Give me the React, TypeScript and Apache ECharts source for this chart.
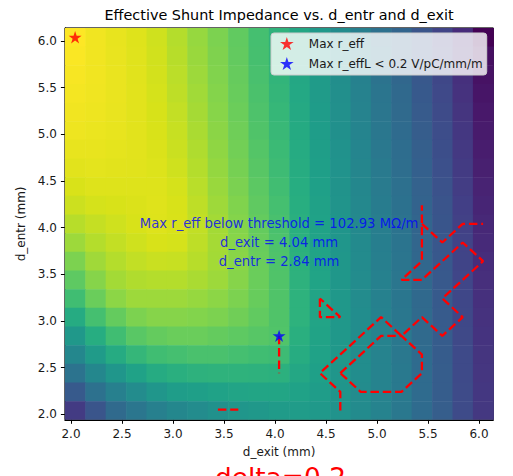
import React, { useEffect, useRef } from "react";
import * as echarts from "echarts";

// d_exit (x) grid-point values, mm
const dExit = [2.04, 2.24, 2.44, 2.64, 2.84, 3.04, 3.24, 3.44, 3.64, 3.84, 4.04, 4.24, 4.44, 4.64, 4.84, 5.04, 5.24, 5.44, 5.64, 5.84, 6.04];
// d_entr (y) grid-point values, mm, listed top row first
const dEntr = [6.04, 5.84, 5.64, 5.44, 5.24, 5.04, 4.84, 4.64, 4.44, 4.24, 4.04, 3.84, 3.64, 3.44, 3.24, 3.04, 2.84, 2.64, 2.44, 2.24, 2.04];

// r_eff (MOhm/m), one row per d_entr value (top row first), one column per d_exit value
const rEff = [
  [125.0, 123.4, 122.2, 121.0, 119.0, 115.8, 112.2, 109.0, 105.4, 101.0, 96.6, 92.2, 87.8, 83.4, 79.0, 74.6, 70.6, 65.8, 61.0, 54.6, 45.0],
  [124.6, 123.4, 122.3, 121.1, 119.2, 116.2, 112.6, 109.3, 105.6, 101.2, 96.9, 92.4, 88.0, 83.6, 79.3, 75.0, 71.0, 66.3, 61.5, 55.2, 48.0],
  [124.2, 123.4, 122.4, 121.2, 119.4, 116.6, 113.0, 109.6, 106.0, 101.6, 97.2, 92.6, 88.2, 83.9, 79.6, 75.4, 71.4, 66.8, 62.0, 55.8, 48.7],
  [123.8, 123.2, 122.4, 121.4, 119.6, 117.0, 113.5, 110.0, 106.3, 102.0, 97.6, 92.8, 88.4, 84.2, 80.0, 75.8, 71.9, 67.2, 62.5, 56.4, 49.3],
  [123.4, 123.0, 122.3, 121.4, 119.9, 117.5, 114.0, 110.4, 106.7, 102.4, 98.1, 93.2, 88.8, 84.5, 80.3, 76.2, 72.4, 67.7, 63.0, 57.0, 50.0],
  [123.0, 122.6, 122.1, 121.4, 120.2, 118.0, 114.6, 110.9, 107.2, 102.8, 98.6, 93.5, 89.1, 84.8, 80.7, 76.6, 72.8, 68.2, 63.6, 57.6, 50.6],
  [122.2, 122.2, 121.8, 121.3, 120.4, 118.4, 115.2, 111.4, 107.6, 103.4, 99.2, 93.8, 89.4, 85.2, 81.0, 77.0, 73.3, 68.7, 64.0, 58.1, 51.2],
  [121.4, 121.6, 121.4, 121.2, 120.7, 119.0, 115.8, 112.0, 108.2, 104.0, 99.7, 94.2, 89.7, 85.5, 81.4, 77.4, 73.8, 69.2, 64.5, 58.7, 51.9],
  [120.2, 120.8, 120.8, 120.8, 120.8, 119.6, 116.4, 112.6, 108.8, 104.6, 100.4, 94.6, 90.0, 85.8, 81.7, 77.8, 74.3, 69.6, 65.0, 59.2, 52.5],
  [118.6, 119.6, 120.0, 120.4, 120.9, 120.0, 117.0, 113.2, 109.5, 105.2, 101.0, 95.0, 90.4, 86.1, 82.1, 78.2, 74.8, 70.1, 65.5, 59.8, 53.2],
  [116.2, 117.8, 119.0, 120.0, 120.8, 120.2, 117.4, 113.8, 110.0, 105.8, 101.6, 95.4, 90.7, 86.4, 82.4, 78.6, 75.2, 70.6, 66.0, 60.3, 53.8],
  [113.0, 115.8, 117.6, 119.0, 120.0, 119.6, 117.0, 114.0, 110.4, 106.3, 102.2, 95.7, 90.9, 86.7, 82.8, 78.9, 75.6, 71.0, 66.4, 60.8, 54.4],
  [109.0, 113.4, 115.8, 117.4, 118.2, 118.0, 116.2, 113.8, 110.6, 106.6, 102.6, 96.0, 91.2, 86.9, 83.0, 79.2, 75.9, 71.4, 66.8, 61.2, 54.9],
  [105.0, 110.2, 113.8, 115.4, 115.8, 115.8, 114.6, 113.0, 110.2, 106.6, 102.8, 96.2, 91.3, 87.1, 83.2, 79.6, 76.2, 71.7, 67.1, 61.6, 55.4],
  [100.2, 106.6, 111.0, 113.0, 113.0, 113.0, 112.2, 111.0, 109.0, 106.2, 102.8, 96.3, 91.4, 87.2, 83.4, 79.8, 76.4, 72.0, 67.4, 61.9, 55.9],
  [93.8, 101.0, 105.8, 109.0, 110.2, 110.2, 109.8, 109.0, 107.4, 105.4, 102.8, 96.3, 91.4, 87.3, 83.6, 80.0, 76.7, 72.3, 67.6, 62.2, 56.3],
  [87.4, 94.6, 100.2, 104.2, 105.8, 106.6, 106.6, 105.8, 105.0, 103.8, 102.93, 95.4, 91.2, 87.3, 83.6, 80.2, 76.8, 72.4, 67.9, 62.4, 56.7],
  [81.8, 88.2, 93.8, 97.8, 100.2, 101.0, 101.8, 101.8, 101.0, 100.2, 99.8, 94.2, 90.8, 87.2, 83.6, 80.3, 77.0, 72.6, 68.0, 62.7, 57.0],
  [75.4, 81.8, 86.6, 90.6, 93.8, 95.4, 96.2, 96.6, 96.6, 96.2, 95.8, 92.6, 90.0, 86.8, 83.6, 80.4, 77.1, 72.7, 68.2, 62.8, 57.3],
  [67.4, 74.6, 79.4, 83.4, 86.6, 89.0, 89.8, 90.6, 91.4, 91.8, 91.8, 90.6, 89.0, 86.4, 83.3, 80.4, 77.1, 72.8, 68.3, 63.0, 57.6],
  [58.6, 65.8, 72.2, 76.2, 79.4, 81.8, 83.4, 85.0, 86.6, 87.4, 88.2, 88.6, 87.8, 85.6, 83.0, 80.2, 77.0, 72.8, 68.4, 63.1, 57.8],
];

// r_effL = 0.2 V/pC/mm/m contour paths [d_exit, d_entr]
const contourA = [[3.44, 2.05], [3.64, 2.05]];
const contourB = [[4.04, 2.84], [4.04, 2.44]];
const contourC = [[4.44, 3.24], [4.44, 3.04], [4.64, 3.04], [4.44, 3.24]];
const contourD = [[4.64, 2.04], [4.64, 2.24], [4.44, 2.44], [5.04, 3.04], [5.24, 2.84], [5.44, 3.04], [5.64, 2.84], [5.84, 3.04], [5.64, 3.24], [6.04, 3.64], [5.84, 3.84], [5.44, 3.44], [5.24, 3.44], [5.44, 3.64], [5.44, 4.24]];
const contourE = [[4.64, 2.44], [5.04, 2.84], [5.24, 2.84], [5.44, 2.64], [5.44, 2.44], [5.24, 2.24], [4.84, 2.24], [4.64, 2.44]];
const contourF = [[5.44, 4.04], [5.64, 3.84], [5.84, 4.04], [6.04, 4.04]];
const contours = [contourA, contourB, contourC, contourD, contourE, contourF];

const maxPoint = [2.04, 6.04];
const thresholdPoint = [4.04, 2.84];
const annotPoint = [4.04, 3.84];
const annotLines = ["Max r_eff below threshold = 102.93 MΩ/m", "d_exit = 4.04 mm", "d_entr = 2.84 mm"];

const tickValues = [2.0, 2.5, 3.0, 3.5, 4.0, 4.5, 5.0, 5.5, 6.0];

const viridis = ["#440154", "#48186a", "#472d7b", "#424086", "#3b528b", "#33638d", "#2c728e", "#26828e", "#21918c", "#1fa088", "#28ae80", "#3fbc73", "#5ec962", "#84d44b", "#addc30", "#d8e219", "#fde725"];

const STAR = "path://M0,-1 L0.2245,-0.309 L0.951,-0.309 L0.363,0.118 L0.588,0.809 L0,0.382 L-0.588,0.809 L-0.363,0.118 L-0.951,-0.309 L-0.2245,-0.309 Z";
const FONT = "'DejaVu Sans', sans-serif";

export default function App() {
  const ref = useRef<HTMLDivElement>(null);
  useEffect(() => {
    if (!ref.current) return;
    const chart = echarts.init(ref.current, undefined, { renderer: "svg" });
    const cells: number[][] = [];
    rEff.forEach((row, r) => row.forEach((v, c) => cells.push([dExit[c], dEntr[r], v])));

    const axisCommon = {
      type: "value",
      min: 1.94,
      max: 6.14,
      splitLine: { show: false },
      axisLine: { show: true, onZero: false, lineStyle: { color: "#000", width: 1 } },
      axisTick: { show: true, customValues: tickValues, length: 4, lineStyle: { color: "#000", width: 1 } },
      axisLabel: { customValues: tickValues, formatter: (v: number) => v.toFixed(1), fontSize: 12, fontFamily: FONT, color: "#1a1a1a", margin: 8 },
      nameLocation: "middle",
      nameTextStyle: { fontSize: 12, fontFamily: FONT, color: "#1a1a1a" },
    };

    const option: any = {
      animation: false,
      backgroundColor: "#fff",
      grid: { left: 64.9, top: 27.9, width: 428.4, height: 391.9, show: true, borderColor: "#000", borderWidth: 1, backgroundColor: "transparent", outerBoundsMode: "none" },
      xAxis: { ...axisCommon, name: "d_exit (mm)", nameGap: 26 },
      yAxis: { ...axisCommon, name: "d_entr (mm)", nameGap: 34 },
      visualMap: { type: "continuous", show: false, min: 45, max: 125, dimension: 2, seriesIndex: 0, inRange: { color: viridis } },
      legend: {
        orient: "vertical", left: 271, top: 33, padding: [4, 4, 5, 9],
        itemWidth: 34, itemHeight: 13, itemGap: 7,
        backgroundColor: "rgba(255,255,255,0.8)", borderColor: "#cccccc", borderWidth: 1, borderRadius: 3,
        textStyle: { fontSize: 12, fontFamily: FONT, color: "#1a1a1a" },
        data: [{ name: "Max r_eff", icon: STAR }, { name: "Max r_effL < 0.2 V/pC/mm/m", icon: STAR }],
        selectedMode: false,
      },
      graphic: [
        { type: "text", x: 279, y: 15, style: { text: "Effective Shunt Impedance vs. d_entr and d_exit", fontSize: 14.4, fontFamily: FONT, fill: "#000", align: "center", verticalAlign: "middle" } },
        { type: "text", x: 215, y: 464, style: { text: "delta=0.2", fontSize: 26.4, fontFamily: FONT, fill: "#ff0000", align: "left", verticalAlign: "top" } },
      ],
      series: [
        {
          type: "custom",
          name: "r_eff",
          clip: true,
          data: cells,
          encode: { x: 0, y: 1 },
          renderItem: (params: any, api: any) => {
            const x = api.value(0);
            const y = api.value(1);
            const p0 = api.coord([x - 0.1, y + 0.1]);
            const p1 = api.coord([x + 0.1, y - 0.1]);
            return { type: "rect", shape: { x: p0[0], y: p0[1], width: p1[0] - p0[0] + 0.6, height: p1[1] - p0[1] + 0.6 }, style: { fill: api.visual("color") } };
          },
          z: 1,
        },
        ...contours.map((c, i) => ({
          type: "line", name: "contour" + i, data: c, showSymbol: false, symbol: "none", z: 3, silent: true,
          lineStyle: { color: "#ff0000", width: 2.3, type: [8.5, 3.8] },
        })),
        { type: "scatter", name: "Max r_eff", data: [maxPoint], symbol: STAR, symbolSize: 13, symbolKeepAspect: true, itemStyle: { color: "#ff0000" }, z: 5 },
        { type: "scatter", name: "Max r_effL < 0.2 V/pC/mm/m", data: [thresholdPoint], symbol: STAR, symbolSize: 13, symbolKeepAspect: true, itemStyle: { color: "#0000ff" }, z: 5 },
        {
          type: "scatter", name: "annotation", data: [annotPoint], symbolSize: 1, itemStyle: { color: "rgba(0,0,0,0)" }, silent: true, z: 6,
          label: { show: true, position: "inside", formatter: annotLines.join("\n"), color: "#0000ff", fontSize: 13.2, lineHeight: 18.7, fontFamily: FONT },
        },
      ],
    };
    chart.setOption(option);
    return () => chart.dispose();
  }, []);
  return <div ref={ref} style={{ position: "fixed", left: 0, top: 0, width: 513, height: 476, background: "#fff" }} />;
}
